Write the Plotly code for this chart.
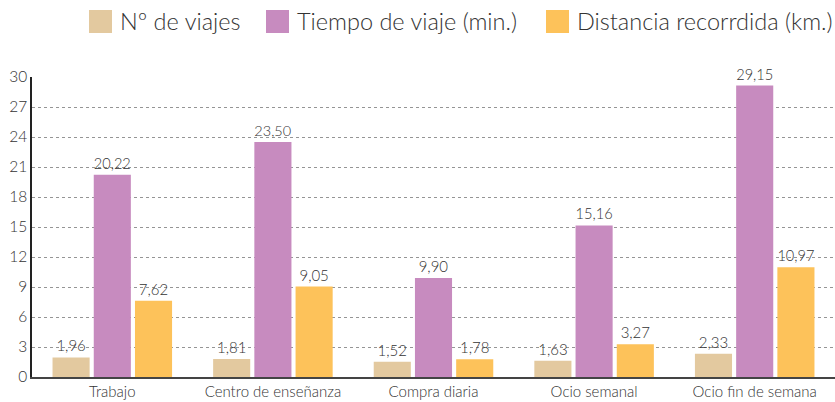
import plotly.graph_objects as go

categories = ["Trabajo", "Centro de enseñanza", "Compra diaria", "Ocio semanal", "Ocio fin de semana"]
n_viajes = [1.96, 1.81, 1.52, 1.63, 2.33]
tiempo = [20.22, 23.50, 9.90, 15.16, 29.15]
distancia = [7.62, 9.05, 1.78, 3.27, 10.97]
series_names = ["Nº de viajes", "Tiempo de viaje (min.)", "Distancia recorrdida (km.)"]
colors = ["#E3C99F", "#C78BBF", "#FDC25A"]
y_ticks = list(range(0, 31, 3))

FONT = "Lato"
WEIGHT = 300
W, H = 835, 402
ML, MR, MT, MB = 32, 0, 77, 25
PW, PH = W - ML - MR, H - MT - MB

def px_x(p):
    return (p - ML) / PW

def px_y(p):
    return (H - MB - p) / PH

fig = go.Figure()
for name, vals, col in zip(series_names, [n_viajes, tiempo, distancia], colors):
    fig.add_trace(go.Bar(
        x=categories, y=vals, name=name, marker_color=col, marker_line_width=0,
        text=vals, texttemplate="%{y:.2f}", textposition="outside",
        textfont=dict(size=15, color="#333333", family=FONT, weight=WEIGHT), cliponaxis=False,
        showlegend=False, hoverinfo="skip",
    ))

# custom legend (large square swatches as in the reference)
swatch_x = [89, 266, 546]
for name, col, sx in zip(series_names, colors, swatch_x):
    fig.add_shape(type="rect", xref="paper", yref="paper",
                  x0=px_x(sx), x1=px_x(sx + 23), y0=px_y(33), y1=px_y(10),
                  fillcolor=col, line_width=0)
    fig.add_annotation(xref="paper", yref="paper", x=px_x(sx + 29), y=px_y(21.5),
                       xanchor="left", yanchor="middle", text=name, showarrow=False,
                       font=dict(size=23.5, color="#333333", family=FONT, weight=WEIGHT))

fig.update_layout(
    width=W, height=H,
    margin=dict(l=ML, r=MR, t=MT, b=MB),
    paper_bgcolor="white", plot_bgcolor="white",
    separators=",.",
    barmode="group", bargap=0.23, bargroupgap=0.1,
    font=dict(family=FONT, color="#333333", weight=WEIGHT),
    yaxis=dict(range=[0, 30], tickvals=y_ticks, showgrid=True, gridcolor="#959595", griddash="3px,3px",
               gridwidth=1, showline=True, linecolor="#222222", linewidth=1.5, ticks="",
               tickfont=dict(size=15.5, color="#333333", family=FONT, weight=WEIGHT),
               zeroline=False, automargin=False),
    xaxis=dict(showline=True, linecolor="#444444", linewidth=1.5, ticks="",
               tickfont=dict(size=15, color="#333333", family=FONT, weight=WEIGHT),
               automargin=False),
    showlegend=False,
)
fig.write_html("out.html", config={"displayModeBar": False},
               post_script="document.body.style.margin='0';")
